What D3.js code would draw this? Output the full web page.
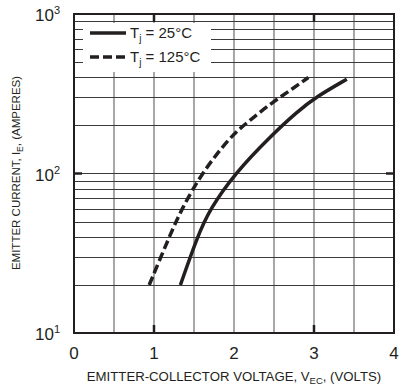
<!DOCTYPE html>
<html>
<head>
<meta charset="utf-8">
<script src="https://cdn.jsdelivr.net/npm/d3@7"></script>
<style>
  body { margin: 0; background: #fff; }
  text { font-family: "Liberation Sans", Arial, Helvetica, sans-serif; fill: #231f20; }
</style>
</head>
<body>
<div id="chart"></div>
<script>
// values
var vec25 = [1.33, 1.54, 1.70, 2.01, 2.45, 2.79, 3.03, 3.41];
var ie25 = [20, 40, 60, 100, 170, 244, 303, 390];
var vec125 = [0.94, 1.19, 1.346, 1.595, 1.95, 2.2, 2.49, 2.74, 2.93];
var ie125 = [20, 40, 60, 100, 170, 216, 282, 342, 400];
var xTicks = [0, 1, 2, 3, 4];
var yTicks = [1, 2, 3]; // exponents of 10
var legendLabels = ["25°C", "125°C"];

var svgWidth = 399, svgHeight = 385;
var pLeft = 74, pRight = 394, pTop = 14, pBottom = 333;

var svg = d3.select("#chart").append("svg")
	.attr("width", svgWidth)
	.attr("height", svgHeight);

var x = d3.scaleLinear().domain([0, 4]).range([pLeft, pRight]);
var y = d3.scaleLog().domain([10, 1000]).range([pBottom, pTop]);

// grid
var vGrid = d3.range(0.5, 4, 0.5);
var hGrid = [];
[10, 100].forEach(function(d) {
	for (var k = 2; k <= 10; k++) hGrid.push(d * k);
});
hGrid = hGrid.filter(function(v) { return v < 1000; });

svg.append("g").selectAll("line")
	.data(vGrid)
	.enter().append("line")
	.attr("x1", function(d) { return x(d); })
	.attr("x2", function(d) { return x(d); })
	.attr("y1", pTop).attr("y2", pBottom)
	.attr("stroke", "#6d6d6d")
	.attr("stroke-width", 1.2);

svg.append("g").selectAll("line")
	.data(hGrid)
	.enter().append("line")
	.attr("x1", pLeft).attr("x2", pRight)
	.attr("y1", function(d) { return Math.round(y(d)) + 0.5; })
	.attr("y2", function(d) { return Math.round(y(d)) + 0.5; })
	.attr("stroke", "#3a3a3a")
	.attr("stroke-width", 1.1);

// legend background hides the grid
svg.append("rect")
	.attr("x", 83).attr("y", 23)
	.attr("width", 128).attr("height", 49)
	.attr("fill", "#fff");

// heavy ticks
var tickLen = 8;
[1, 3].forEach(function(v) {
	svg.append("line").attr("x1", x(v)).attr("x2", x(v))
		.attr("y1", pBottom).attr("y2", pBottom - tickLen)
		.attr("stroke", "#231f20").attr("stroke-width", 2.5);
	svg.append("line").attr("x1", x(v)).attr("x2", x(v))
		.attr("y1", pTop).attr("y2", pTop + tickLen)
		.attr("stroke", "#231f20").attr("stroke-width", 2.5);
});
svg.append("line").attr("x1", pLeft).attr("x2", pLeft + tickLen)
	.attr("y1", y(100)).attr("y2", y(100))
	.attr("stroke", "#231f20").attr("stroke-width", 2.5);
svg.append("line").attr("x1", pRight).attr("x2", pRight - tickLen)
	.attr("y1", y(100)).attr("y2", y(100))
	.attr("stroke", "#231f20").attr("stroke-width", 2.5);

// frame
svg.append("rect")
	.attr("x", pLeft).attr("y", pTop)
	.attr("width", pRight - pLeft).attr("height", pBottom - pTop)
	.attr("fill", "none")
	.attr("stroke", "#231f20")
	.attr("stroke-width", 2);

// curves
var line = d3.line()
	.x(function(d) { return x(d[0]); })
	.y(function(d) { return y(d[1]); })
	.curve(d3.curveBasis);

svg.append("path")
	.datum(d3.zip(vec25, ie25))
	.attr("fill", "none")
	.attr("stroke", "#231f20")
	.attr("stroke-width", 3.5)
	.attr("d", line);

svg.append("path")
	.datum(d3.zip(vec125, ie125))
	.attr("fill", "none")
	.attr("stroke", "#231f20")
	.attr("stroke-width", 3.5)
	.attr("stroke-dasharray", "9,4")
	.attr("d", line);

// legend
var leg = svg.append("g");
legendLabels.forEach(function(lab, i) {
	var ly = 33 + i * 24;
	leg.append("line")
		.attr("x1", 90).attr("x2", 126)
		.attr("y1", ly).attr("y2", ly)
		.attr("stroke", "#231f20")
		.attr("stroke-width", 3.5)
		.attr("stroke-dasharray", i == 0 ? null : "9,4");
	var t = leg.append("text")
		.attr("x", 130).attr("y", ly + 5)
		.attr("font-size", 15);
	t.append("tspan").text("T");
	t.append("tspan").attr("font-size", 10).attr("dy", 4).text("j");
	t.append("tspan").attr("dy", -4).text(" = " + lab);
});

// x tick labels
svg.append("g").selectAll("text")
	.data(xTicks)
	.enter().append("text")
	.attr("x", function(d) { return x(d); })
	.attr("y", 359)
	.attr("text-anchor", "middle")
	.attr("font-size", 17)
	.text(function(d) { return d; });

// y tick labels
var yl = svg.append("g").selectAll("text")
	.data(yTicks)
	.enter().append("text")
	.attr("x", 60)
	.attr("y", function(d) { return y(Math.pow(10, d)) + 7; })
	.attr("text-anchor", "end")
	.attr("font-size", 17);
yl.append("tspan").text("10");
yl.append("tspan").attr("font-size", 11).attr("dy", -7).text(function(d) { return d; });

// axis titles
var xt = svg.append("text")
	.attr("x", 234).attr("y", 381)
	.attr("text-anchor", "middle")
	.attr("font-size", 13.2);
xt.append("tspan").text("EMITTER-COLLECTOR VOLTAGE, V");
xt.append("tspan").attr("font-size", 9.5).attr("dy", 3).text("EC");
xt.append("tspan").attr("dy", -3).text(", (VOLTS)");

var yt = svg.append("text")
	.attr("transform", "translate(20,173) rotate(-90)")
	.attr("text-anchor", "middle")
	.attr("font-size", 11.5);
yt.append("tspan").text("EMITTER CURRENT, I");
yt.append("tspan").attr("font-size", 8.5).attr("dy", 3).text("E");
yt.append("tspan").attr("dy", -3).text(", (AMPERES)");
</script>
</body>
</html>
